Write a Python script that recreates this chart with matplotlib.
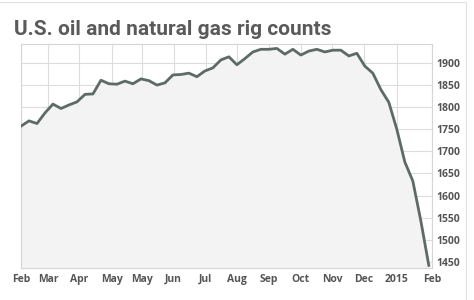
import numpy as np
import matplotlib.pyplot as plt
from matplotlib.patches import Rectangle

# weekly U.S. oil + gas rig counts, Feb 2014 - Feb 2015
rigs = [1757, 1769, 1763, 1787, 1807, 1797, 1805, 1812, 1829, 1830,
        1861, 1853, 1852, 1859, 1853, 1864, 1860, 1850, 1855, 1873,
        1874, 1877, 1869, 1882, 1889, 1907, 1914, 1896, 1910, 1925,
        1931, 1931, 1933, 1920, 1931, 1918, 1927, 1931, 1925, 1929,
        1929, 1916, 1922, 1893, 1877, 1840, 1811, 1750, 1676, 1633,
        1543, 1442]
month_labels = ['Feb', 'Mar', 'Apr', 'May', 'May', 'Jun', 'Jul', 'Aug',
                'Sep', 'Oct', 'Nov', 'Dec', '2015', 'Feb']
month_weeks = [0, 3.4, 7.3, 11.4, 15.1, 19.1, 23.1, 27.0, 31.0, 35.0,
               38.9, 42.9, 47.0, 51.4]
y_ticks = [1450, 1500, 1550, 1600, 1650, 1700, 1750, 1800, 1850, 1900]

weeks = np.arange(len(rigs))

fig = plt.figure(figsize=(4.74, 3.0), dpi=100)
fig.patch.set_facecolor('white')
ax = fig.add_axes([21/474, 1-268/300, (432-21)/474, (268-44)/300])

ax.fill_between(weeks, rigs, 1400, color='#f3f3f3', zorder=1)
ax.plot(weeks, rigs, color='#5d6b67', linewidth=2.0, solid_joinstyle='round', zorder=3)

ax.set_xlim(0, 51.4)
ax.set_ylim(1436, 1943)
ax.set_xticks(month_weeks)
ax.set_xticklabels(month_labels)
ax.set_yticks(y_ticks)
ax.yaxis.tick_right()

ax.grid(True, color='#dddddd', linewidth=0.8, zorder=0)
ax.set_axisbelow(True)
for s in ['left', 'top', 'bottom', 'right']:
    ax.spines[s].set_color('#d5d5d5')
    ax.spines[s].set_linewidth(0.8)

ax.tick_params(axis='both', length=0, labelsize=7.5, labelcolor='#555555')
ax.tick_params(axis='x', pad=4)
ax.tick_params(axis='y', pad=3)
for lab in ax.get_xticklabels() + ax.get_yticklabels():
    lab.set_fontfamily('Open Sans')
    lab.set_fontweight('bold')

fig.text(14/474, 1-35/300, 'U.S. oil and natural gas rig counts', fontsize=15,
         fontweight='bold', color='#5a5a5a', family='Roboto', ha='left', va='baseline')

# outer widget frame
fig.patches.append(Rectangle((-0.01, -0.01), 466/474 + 0.01, 1 - 2/300 + 0.01,
                             transform=fig.transFigure, fill=False,
                             edgecolor='#e2e2e2', linewidth=0.8))

fig.savefig('out.png', dpi=100)
